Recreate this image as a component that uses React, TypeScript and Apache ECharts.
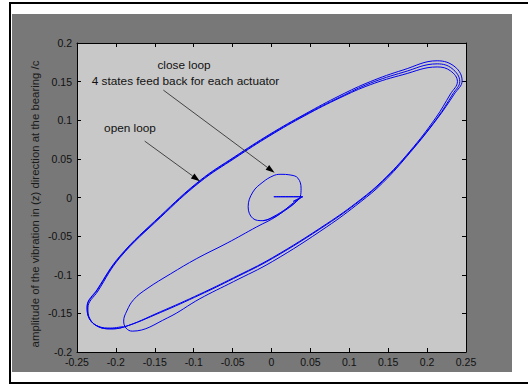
import React, { useEffect, useRef } from "react";
import * as echarts from "echarts";

// Open loop: start transient from the origin, then the limit cycle (three laps)
const openLoopTransient: number[][] = [
  [0.003, 0.001], [0.040, 0.001], [0.028, -0.007], [0.007, -0.024], [-0.019, -0.038],
  [-0.057, -0.059], [-0.096, -0.079], [-0.130, -0.099], [-0.160, -0.118], [-0.177, -0.132],
  [-0.186, -0.147], [-0.190, -0.160], [-0.187, -0.169], [-0.179, -0.173],
];
const openLoopLap1: number[][] = [
  [-0.134, -0.156], [-0.092, -0.131], [-0.049, -0.109], [0.001, -0.083], [0.071, -0.038],
  [0.114, -0.006], [0.143, 0.019], [0.178, 0.058], [0.213, 0.102], [0.235, 0.134],
  [0.245, 0.151], [0.236, 0.169], [0.213, 0.177], [0.169, 0.165], [0.127, 0.150],
  [0.088, 0.132], [0.043, 0.108], [-0.002, 0.082], [-0.047, 0.053], [-0.092, 0.022],
  [-0.143, -0.024], [-0.195, -0.076], [-0.224, -0.119], [-0.237, -0.141], [-0.234, -0.157],
  [-0.223, -0.167], [-0.208, -0.170], [-0.191, -0.168],
];
const openLoopLap2: number[][] = [
  [-0.143, -0.149], [-0.092, -0.126], [-0.049, -0.105], [0.001, -0.079], [0.071, -0.035],
  [0.114, -0.004], [0.143, 0.021], [0.178, 0.059], [0.213, 0.103], [0.233, 0.134],
  [0.242, 0.150], [0.232, 0.167], [0.213, 0.173], [0.169, 0.162], [0.127, 0.148],
  [0.088, 0.130], [0.043, 0.107], [-0.002, 0.081], [-0.047, 0.052], [-0.092, 0.021],
  [-0.143, -0.025], [-0.195, -0.077], [-0.224, -0.120], [-0.237, -0.142], [-0.234, -0.157],
  [-0.223, -0.167], [-0.208, -0.170], [-0.191, -0.168],
];
const openLoopLap3: number[][] = [
  [-0.143, -0.148], [-0.092, -0.125], [-0.049, -0.104], [0.001, -0.078], [0.071, -0.034],
  [0.114, -0.003], [0.143, 0.022], [0.178, 0.060], [0.211, 0.103], [0.230, 0.134],
  [0.239, 0.150], [0.230, 0.164], [0.213, 0.169], [0.169, 0.159], [0.127, 0.146],
  [0.088, 0.129], [0.043, 0.106], [-0.002, 0.080], [-0.047, 0.051], [-0.092, 0.020],
  [-0.143, -0.026], [-0.195, -0.078], [-0.223, -0.121], [-0.236, -0.143], [-0.233, -0.158],
  [-0.222, -0.167], [-0.207, -0.169], [-0.191, -0.167],
];

// Close loop: same start, settles into a small orbit
const closeLoopStart: number[][] = [
  [0.003, 0.001], [0.040, 0.001], [0.028, -0.005], [0.036, -0.001], [0.030, -0.007],
];
const closeLoopOrbit: number[][] = [
  [0.020, -0.014], [0.002, -0.025], [-0.011, -0.030], [-0.024, -0.027], [-0.030, -0.012],
  [-0.024, 0.007], [-0.011, 0.020], [0.002, 0.028], [0.011, 0.030], [0.025, 0.029],
  [0.034, 0.025], [0.038, 0.012], [0.037, 0.001], [0.030, -0.007], [0.020, -0.015],
  [0.002, -0.026], [-0.011, -0.030],
];

// Annotation arrows (tail, head) in data coordinates
const closeLoopArrow: number[][] = [[-0.139, 0.139], [0.004, 0.032]];
const openLoopArrow: number[][] = [[-0.163, 0.073], [-0.092, 0.021]];

const xRange = [-0.25, 0.25];
const yRange = [-0.2, 0.2];
const tickStep = 0.05;

const FONT = "'Liberation Sans', Arial, Helvetica, sans-serif";
const BLUE = "#0000f0";
const GRID = { left: 77, right: 62, top: 43, bottom: 34 };
const W = 528;
const H = 386;

const fmt = (v: number) => String(Number(v.toFixed(3)));

export default function App() {
  const ref = useRef<HTMLDivElement>(null);
  useEffect(() => {
    if (!ref.current) return;
    const chart = echarts.init(ref.current, undefined, { renderer: "svg" });
    const openLoop = [...openLoopTransient, ...openLoopLap1, ...openLoopLap2, ...openLoopLap3];
    const closeLoop = [...closeLoopStart, ...closeLoopOrbit];
    const axisCommon = {
      type: "value" as const,
      axisLine: { show: true, onZero: false, lineStyle: { color: "#000", width: 1 } },
      axisTick: { show: true, inside: true, length: 4, lineStyle: { color: "#000" } },
      splitLine: { show: false },
    };
    const baseGraphic: any[] = [
      { type: "rect", z: 0, shape: { x: 12, y: 14, width: 500, height: 358 }, style: { fill: "#787878" } },
      {
        type: "rect", z: 0,
        shape: { x: GRID.left, y: GRID.top, width: W - GRID.left - GRID.right, height: H - GRID.top - GRID.bottom },
        style: { fill: "#c8c8c8" },
      },
      {
        type: "text", z: 1, x: 35, y: 204, rotation: Math.PI / 2,
        style: {
          text: "amplitude of the vibration in (z) direction at the bearing /c",
          fill: "#1a1a1a", font: `11.4px ${FONT}`, textAlign: "center", textVerticalAlign: "middle",
        },
      },
      {
        type: "text", z: 1, x: 296, y: 378,
        style: {
          text: "amplitude of the vibration in (y) direction at the bearing /c",
          fill: "#1a1a1a", font: `11.4px ${FONT}`, textAlign: "center", textVerticalAlign: "middle",
        },
      },
      { type: "rect", z: 5, shape: { x: 0, y: 372, width: W, height: 14 }, style: { fill: "#ffffff" } },
      { type: "rect", z: 6, shape: { x: 9, y: 2, width: W - 9, height: 2 }, style: { fill: "#000" } },
      { type: "rect", z: 6, shape: { x: 9, y: 2, width: 2, height: 382 }, style: { fill: "#000" } },
      { type: "rect", z: 6, shape: { x: 9, y: 382, width: W - 9, height: 2 }, style: { fill: "#000" } },
      {
        type: "text", z: 10, x: 184, y: 65,
        style: { text: "close loop", fill: "#111", font: `11.8px ${FONT}`, textAlign: "center", textVerticalAlign: "middle" },
      },
      {
        type: "text", z: 10, x: 185.5, y: 81,
        style: { text: "4 states feed back for each actuator", fill: "#111", font: `11.8px ${FONT}`, textAlign: "center", textVerticalAlign: "middle" },
      },
      {
        type: "text", z: 10, x: 130, y: 128,
        style: { text: "open loop", fill: "#111", font: `11.8px ${FONT}`, textAlign: "center", textVerticalAlign: "middle" },
      },
    ];
    chart.setOption({
      animation: false,
      backgroundColor: "#ffffff",
      grid: { ...GRID, show: true, backgroundColor: "transparent", borderColor: "#000", borderWidth: 1 },
      xAxis: [
        {
          ...axisCommon, min: xRange[0], max: xRange[1], interval: tickStep, position: "bottom",
          axisLabel: { color: "#111", fontSize: 10.5, fontFamily: FONT, margin: 4, formatter: fmt },
        },
        { ...axisCommon, min: xRange[0], max: xRange[1], interval: tickStep, position: "top", axisLabel: { show: false } },
      ],
      yAxis: [
        {
          ...axisCommon, min: yRange[0], max: yRange[1], interval: tickStep, position: "left",
          axisLabel: { color: "#111", fontSize: 10.5, fontFamily: FONT, margin: 5, formatter: fmt },
        },
        { ...axisCommon, min: yRange[0], max: yRange[1], interval: tickStep, position: "right", axisLabel: { show: false } },
      ],
      series: [
        {
          type: "line", data: openLoop, showSymbol: false, smooth: 0.4, z: 3,
          lineStyle: { color: BLUE, width: 1 }, silent: true,
        },
        {
          type: "line", data: closeLoop, showSymbol: false, smooth: 0.4, z: 3,
          lineStyle: { color: BLUE, width: 1 }, silent: true,
        },
      ],
      graphic: baseGraphic,
    });

    // Arrows: positions converted through the chart's own axes
    const arrows: any[] = [];
    [closeLoopArrow, openLoopArrow].forEach((a) => {
      const p0 = chart.convertToPixel({ gridIndex: 0 }, a[0]) as number[];
      const p1 = chart.convertToPixel({ gridIndex: 0 }, a[1]) as number[];
      const dx = p1[0] - p0[0];
      const dy = p1[1] - p0[1];
      const len = Math.sqrt(dx * dx + dy * dy);
      const ux = dx / len;
      const uy = dy / len;
      const hl = 9;
      const hw = 3;
      const bx = p1[0] - ux * hl;
      const by = p1[1] - uy * hl;
      arrows.push({
        type: "line", z: 10,
        shape: { x1: p0[0], y1: p0[1], x2: bx, y2: by },
        style: { stroke: "#222", lineWidth: 0.8 },
      });
      arrows.push({
        type: "polygon", z: 10,
        shape: { points: [[p1[0], p1[1]], [bx - uy * hw, by + ux * hw], [bx + uy * hw, by - ux * hw]] },
        style: { fill: "#000" },
      });
    });
    chart.setOption({ graphic: [...baseGraphic, ...arrows] });
    return () => chart.dispose();
  }, []);
  return <div ref={ref} style={{ position: "fixed", left: 0, top: 0, width: W, height: H }} />;
}
